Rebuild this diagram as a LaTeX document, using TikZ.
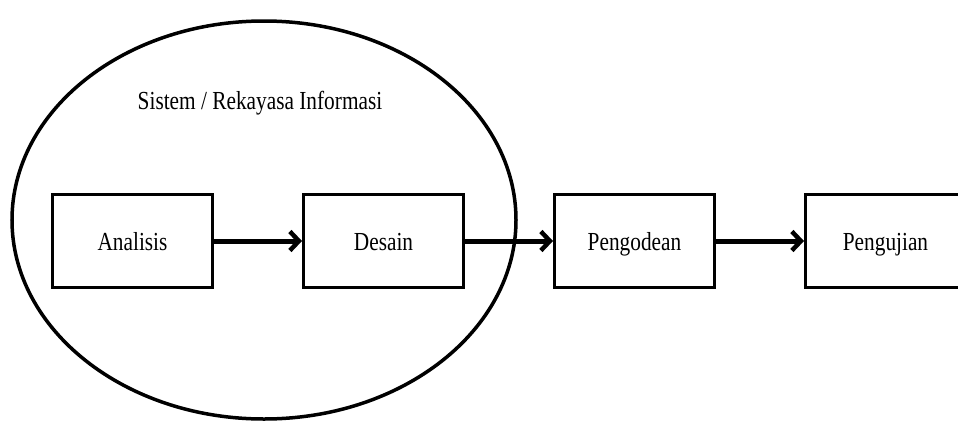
\documentclass[tikz,border=0pt]{standalone}
\usepackage{fontspec}
\setmainfont[FakeStretch=0.82]{Liberation Serif}
\usetikzlibrary{positioning,shapes.geometric,arrows.meta}

\tikzset{
  tahap/.style={draw, line width=3pt, minimum width=160pt, minimum height=93pt,
    inner sep=0pt, text height=19pt, text depth=0pt, font=\fontsize{26}{31}\selectfont},
  alur/.style={line width=5pt, -{Straight Barb[length=9pt,width=19pt,line width=4.5pt]}},
}

\begin{document}
\begin{tikzpicture}[x=1pt,y=-1pt]
\useasboundingbox (0,0) rectangle (958,423);
%sistem / rekayasa informasi%
\node[draw, ellipse, line width=3.5pt, minimum width=504pt, minimum height=398pt,
  inner sep=0pt] (sistem) at (264,220) {};
\node[font=\fontsize{26}{31}\selectfont] (judul) at (260,103) {Sistem / Rekayasa Informasi};
%tahapan%
\node[tahap] (analisis) at (132.5,241) {Analisis};
\node[tahap, right=88pt of analisis] (desain) {Desain};
\node[tahap, right=88pt of desain] (pengodean) {Pengodean};
\node[tahap, right=88pt of pengodean] (pengujian) {Pengujian};
%panah%
\draw[alur] (analisis) -- (desain);
\draw[alur] (desain) -- (pengodean);
\draw[alur] (pengodean) -- (pengujian);
\end{tikzpicture}
\end{document}
